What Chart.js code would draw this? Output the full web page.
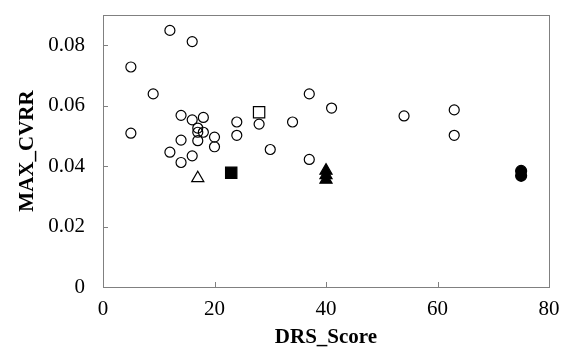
<!DOCTYPE html>
<html lang="en">
<head>
    <meta charset="UTF-8">
    <title>MAX_CVRR vs DRS_Score</title>
    <style>
        html, body { margin: 0; padding: 0; background: #fff; }
        #wrap { width: 568px; height: 357px; }
    </style>
</head>
<body>
    <div id="wrap"><canvas id="chart" width="568" height="357"></canvas></div>

    <script src="https://cdn.jsdelivr.net/npm/chart.js"></script>
    <script>
        // data
        const openCircleX = [5, 5, 9, 12, 12, 14, 14, 14, 16, 16, 16, 17, 17, 17, 18, 18, 20, 20, 24, 24, 28, 30, 34, 37, 37, 41, 54, 63, 63];
        const openCircleY = [0.0728, 0.0509, 0.0639, 0.0849, 0.0446, 0.0568, 0.0486, 0.0412, 0.0812, 0.0553, 0.0434,
                             0.0526, 0.0512, 0.0484, 0.0561, 0.0512, 0.0496, 0.0464, 0.0546, 0.0502, 0.0539, 0.0455,
                             0.0546, 0.0639, 0.0422, 0.0592, 0.0566, 0.0586, 0.0502];
        const openSquareX = [28];
        const openSquareY = [0.0578];
        const filledSquareX = [23];
        const filledSquareY = [0.0378];
        const openTriangleX = [17];
        const openTriangleY = [0.0360];
        const filledTriangleX = [40, 40, 40];
        const filledTriangleY = [0.0385, 0.0370, 0.0355];
        const filledCircleX = [75, 75];
        const filledCircleY = [0.0384, 0.0368];

        const xTicks = [0, 20, 40, 60, 80];
        const yTicks = [0, 0.02, 0.04, 0.06, 0.08];

        const toPoints = (xs, ys) => xs.map((x, i) => ({ x: x, y: ys[i] }));

        function series(xs, ys, style, radius, fill) {
            return {
                data: toPoints(xs, ys),
                pointStyle: style,
                pointRadius: radius,
                pointHoverRadius: radius,
                pointBorderWidth: 1.2,
                borderColor: '#000',
                pointBorderColor: '#000',
                pointBackgroundColor: fill,
                backgroundColor: fill,
                showLine: false
            };
        }

        // frame and inward ticks, like the original
        const frame = {
            id: 'frame',
            afterDatasetsDraw(chart) {
                const { ctx, chartArea: a, scales } = chart;
                ctx.save();
                ctx.strokeStyle = '#808080';
                ctx.lineWidth = 1;
                ctx.strokeRect(Math.round(a.left) + 0.5, Math.round(a.top) + 0.5,
                    Math.round(a.right - a.left), Math.round(a.bottom - a.top));
                ctx.beginPath();
                yTicks.slice(1).forEach(v => {
                    const y = Math.round(scales.y.getPixelForValue(v)) + 0.5;
                    ctx.moveTo(a.left, y);
                    ctx.lineTo(a.left + 5, y);
                });
                xTicks.slice(1, -1).forEach(v => {
                    const x = Math.round(scales.x.getPixelForValue(v)) + 0.5;
                    ctx.moveTo(x, a.bottom);
                    ctx.lineTo(x, a.bottom - 5);
                });
                ctx.stroke();
                ctx.restore();
            }
        };

        const tickFont = { family: "'Liberation Serif', 'Times New Roman', serif", size: 21 };
        const titleFont = { family: "'Liberation Serif', 'Times New Roman', serif", size: 21, weight: 'bold' };

        new Chart(document.getElementById('chart'), {
            type: 'scatter',
            data: {
                datasets: [
                    series(openCircleX, openCircleY, 'circle', 5, 'rgba(0,0,0,0)'),
                    series(openSquareX, openSquareY, 'rect', 8, '#fff'),
                    series(filledSquareX, filledSquareY, 'rect', 8, '#000'),
                    series(openTriangleX, openTriangleY, 'triangle', 7, '#fff'),
                    series(filledTriangleX, filledTriangleY, 'triangle', 7, '#000'),
                    series(filledCircleX, filledCircleY, 'circle', 5.5, '#000')
                ]
            },
            options: {
                responsive: false,
                animation: false,
                layout: { padding: { top: 15, right: 19, left: 0, bottom: 0 } },
                plugins: { legend: { display: false }, tooltip: { enabled: false } },
                scales: {
                    x: {
                        type: 'linear',
                        min: 0, max: 80,
                        afterBuildTicks: s => { s.ticks = xTicks.map(v => ({ value: v })); },
                        afterFit: s => { s.height = 70; s.paddingLeft = 0; s.paddingRight = 0; },
                        grid: { display: false, drawTicks: false },
                        border: { display: false },
                        ticks: { color: '#000', font: tickFont, padding: 10, maxRotation: 0 },
                        title: { display: true, text: 'DRS_Score', color: '#000', font: titleFont, padding: { top: 0, bottom: 7 } }
                    },
                    y: {
                        min: 0, max: 0.09,
                        afterBuildTicks: s => { s.ticks = yTicks.map(v => ({ value: v })); },
                        afterFit: s => { s.width = 103; s.paddingTop = 0; s.paddingBottom = 0; },
                        grid: { display: false, drawTicks: false },
                        border: { display: false },
                        ticks: { color: '#000', font: tickFont, padding: 18, callback: v => String(v) },
                        title: { display: true, text: 'MAX_CVRR', color: '#000', font: titleFont, padding: { top: 15, bottom: 0 } }
                    }
                }
            },
            plugins: [frame]
        });
    </script>
</body>
</html>
